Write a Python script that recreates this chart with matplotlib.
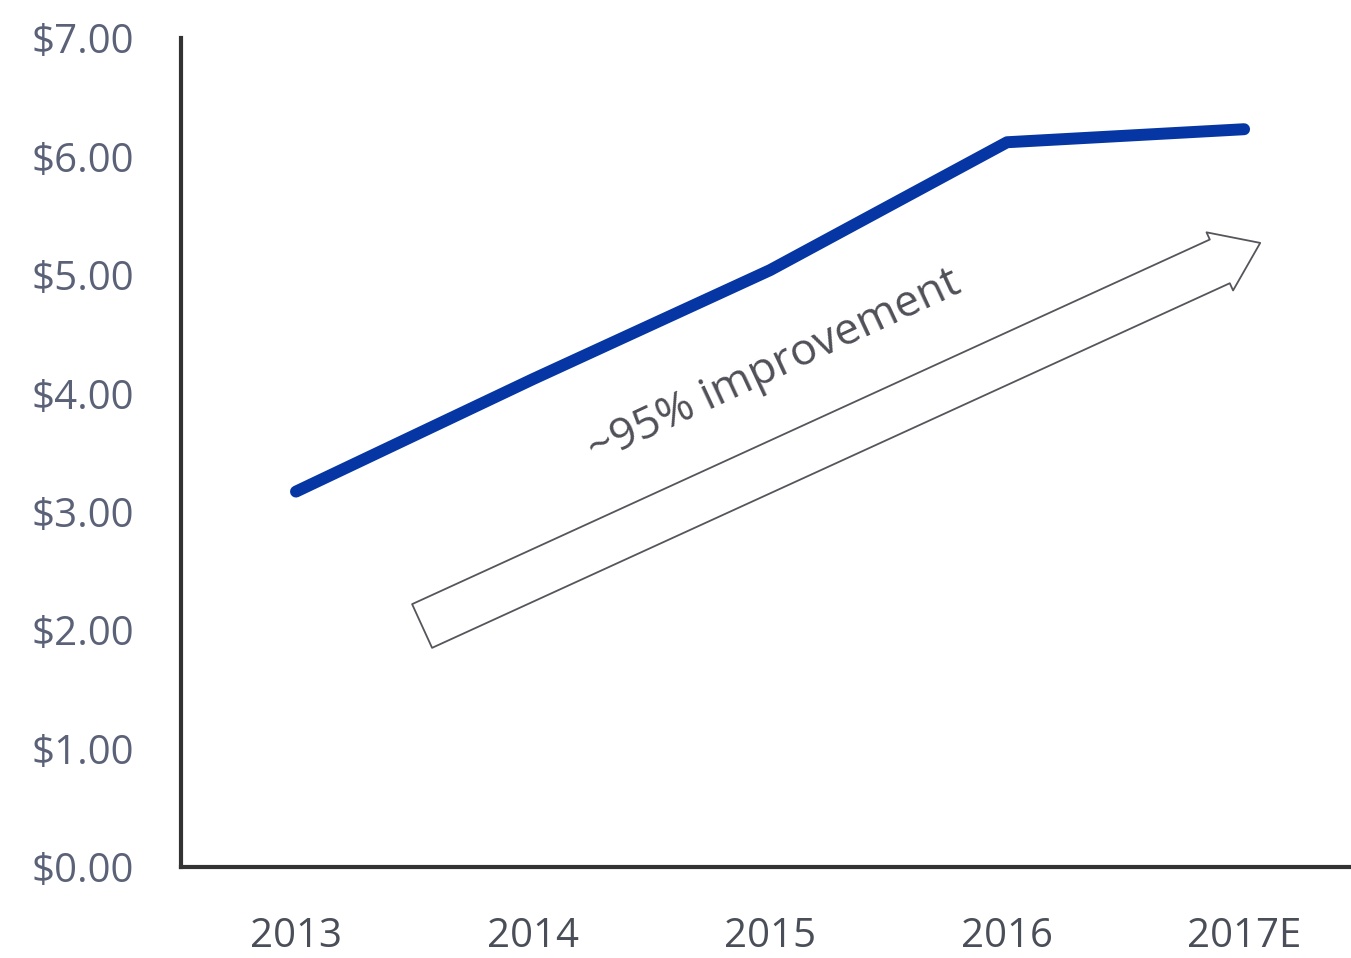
import matplotlib
matplotlib.use("Agg")
import matplotlib.pyplot as plt

years = ["2013", "2014", "2015", "2016", "2017E"]
eps = [3.17, 4.12, 5.04, 6.12, 6.23]
y_ticks = [0, 1, 2, 3, 4, 5, 6, 7]
y_labels = ["$%.2f" % v for v in y_ticks]
note = "~95% improvement"

plt.rcParams["font.family"] = ["Open Sans", "DejaVu Sans"]

fig = plt.figure(figsize=(13.51, 9.58), dpi=100)
ax = fig.add_axes([0.134, 0.095, 0.866, 0.8653])

x = list(range(len(years)))
ax.plot(x, eps, color="#0536a3", lw=8.6, solid_capstyle="round",
        solid_joinstyle="round", zorder=3)

# hollow arrow under the line
ax.annotate("", xy=(4.068, 5.27), xytext=(0.532, 2.035),
            arrowprops=dict(arrowstyle="simple,head_width=46,head_length=32,tail_width=34.6",
                            mutation_scale=1, fc="white", ec="#55555c", lw=1.3,
                            shrinkA=0, shrinkB=0))
ax.text(2.02, 4.22, note, rotation=25, rotation_mode="anchor",
        ha="center", va="center", fontsize=32, color="#505058")

ax.set_xlim(-0.485, 4.451)
ax.set_ylim(0, 7)
ax.set_xticks(x)
ax.set_xticklabels(years)
ax.set_yticks(y_ticks)
ax.set_yticklabels(y_labels)
ax.tick_params(axis="y", length=0, pad=34, labelsize=29, labelcolor="#5b6278")
ax.tick_params(axis="x", length=0, pad=36, labelsize=29, labelcolor="#4a4e58")

for side in ["top", "right"]:
    ax.spines[side].set_visible(False)
for side in ["left", "bottom"]:
    ax.spines[side].set_linewidth(3)
    ax.spines[side].set_color("#333333")

fig.savefig("out.png", dpi=100)
